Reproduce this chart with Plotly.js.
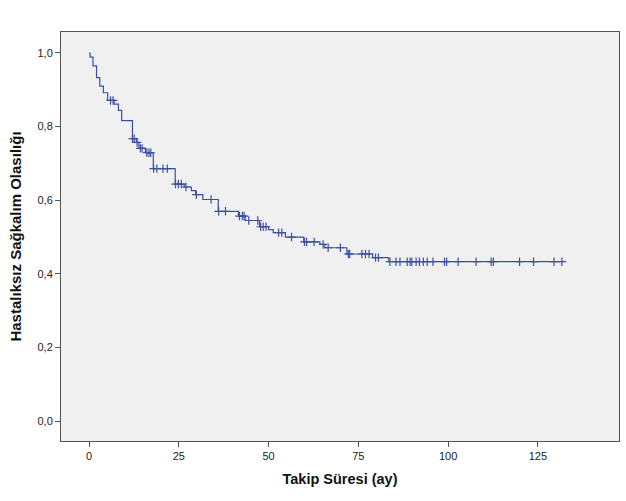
<!DOCTYPE html>
<html>
<head>
<meta charset="utf-8">
<script src="https://cdn.plot.ly/plotly-3.0.1.min.js"></script>
<style>html,body{margin:0;padding:0;background:#fff;}#chart{width:626px;height:501px;}</style>
</head>
<body>
<div id="chart"></div>
<script>
// Kaplan-Meier: event times (months) and survival after each event
const eventTimes = [0.3, 1.1, 2.1, 3.0, 4.0, 5.2, 7.0, 8.2, 9.1, 12.1, 13.2, 13.9, 15.7, 17.9, 24.0, 26.5, 28.5, 29.7, 31.7, 36.0, 41.6, 43.5, 47.5, 50.0, 51.3, 54.7, 59.8, 64.3, 65.7, 71.8, 79.0, 83.5];
const survival = [0.989, 0.965, 0.933, 0.910, 0.892, 0.871, 0.861, 0.844, 0.816, 0.767, 0.757, 0.741, 0.729, 0.686, 0.644, 0.636, 0.626, 0.615, 0.602, 0.570, 0.557, 0.545, 0.528, 0.520, 0.512, 0.500, 0.487, 0.480, 0.471, 0.454, 0.444, 0.433];
// censored observations (months)
const censorTimes = [6.0, 6.7, 12.1, 12.6, 13.4, 14.3, 14.8, 16.1, 16.7, 17.2, 18.0, 18.9, 20.6, 21.8, 24.1, 24.9, 25.7, 27.0, 29.9, 34.0, 36.1, 38.0, 41.9, 42.7, 43.2, 44.5, 47.0, 47.8, 48.5, 49.3, 52.8, 53.7, 56.4, 60.0, 60.6, 62.7, 65.2, 66.6, 70.0, 72.2, 72.6, 76.0, 77.0, 78.0, 79.8, 80.6, 83.8, 85.5, 86.6, 88.6, 89.4, 89.9, 91.1, 92.0, 93.1, 94.2, 95.8, 99.0, 99.6, 102.8, 107.8, 112.0, 112.6, 119.9, 123.8, 129.5, 131.7];
const xTicks = [0, 25, 50, 75, 100, 125];
const yTicks = [0, 0.2, 0.4, 0.6, 0.8, 1.0];

function survAt(t) {
  let s = 1.0;
  for (let i = 0; i < eventTimes.length; i++) { if (t >= eventTimes[i]) s = survival[i]; }
  return s;
}
const lastT = censorTimes[censorTimes.length - 1];
const stepX = [0].concat(eventTimes, [lastT]);
const stepY = [1.0].concat(survival, [survival[survival.length - 1]]);
const censorY = censorTimes.map(survAt);

const col = '#3d4f9f';
const traces = [
  {x: stepX, y: stepY, mode: 'lines', line: {shape: 'hv', color: col, width: 1.2}, hoverinfo: 'skip', showlegend: false},
  {x: censorTimes, y: censorY, mode: 'markers', marker: {symbol: 'cross-thin-open', size: 6, color: col, line: {color: col, width: 1.2}}, showlegend: false}
];
const titleFont = {family: 'Liberation Sans, Arial, sans-serif', color: '#111', weight: 'bold'};
const layout = {
  width: 626, height: 501,
  margin: {l: 61, r: 7, t: 32, b: 60},
  paper_bgcolor: '#ffffff', plot_bgcolor: '#f0f0f0',
  separators: ',.',
  font: {family: 'Liberation Sans, Arial, sans-serif', size: 11, color: '#222'},
  xaxis: {
    range: [-7.8, 147.6], tickvals: xTicks, tickformat: 'd',
    ticks: 'outside', ticklen: 5, tickcolor: '#555', showgrid: false, zeroline: false,
    showline: true, linecolor: '#555', linewidth: 1, mirror: true,
    title: {text: 'Takip Süresi (ay)', font: Object.assign({size: 14.5}, titleFont), standoff: 12}
  },
  yaxis: {
    range: [-0.054, 1.057], tickvals: yTicks, tickformat: '.1f',
    ticks: 'outside', ticklen: 5, tickcolor: '#555', showgrid: false, zeroline: false,
    showline: true, linecolor: '#555', linewidth: 1, mirror: true,
    title: {text: 'Hastalıksız Sağkalım Olasılığı', font: Object.assign({size: 15}, titleFont), standoff: 12}
  }
};
Plotly.newPlot('chart', traces, layout, {displayModeBar: false, staticPlot: true});
</script>
</body>
</html>
